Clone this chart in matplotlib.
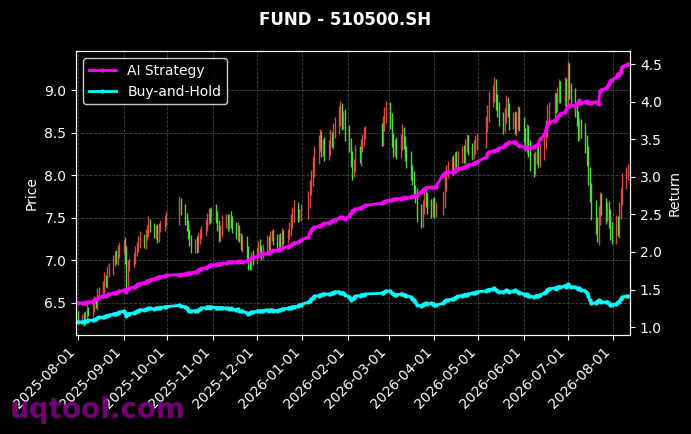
import numpy as np
import pandas as pd
import matplotlib
matplotlib.use("Agg")
import matplotlib.pyplot as plt
import matplotlib.dates as mdates

# trading calendar (weekdays minus exchange holidays)
holidays = pd.to_datetime([
    "2025-10-01", "2025-10-02", "2025-10-03", "2025-10-06", "2025-10-07", "2025-10-08",
    "2026-01-01", "2026-01-02",
    "2026-02-16", "2026-02-17", "2026-02-18", "2026-02-19", "2026-02-20", "2026-02-23",
    "2026-04-03", "2026-04-06",
    "2026-05-01", "2026-05-04", "2026-05-05",
    "2026-06-19",
])
dates = pd.bdate_range("2025-08-01", "2026-08-11")
dates = dates[~dates.isin(holidays)]

# daily closes, month by month
close = [
    # 2025-08
    6.30, 6.34, 6.28, 6.36, 6.42, 6.38, 6.45, 6.52, 6.48, 6.60, 6.64, 6.70, 6.78, 6.74, 6.86, 6.91, 6.98, 7.06, 7.02, 7.11, 7.14,
    # 2025-09
    7.18, 7.05, 6.78, 6.92, 6.98, 7.03, 7.10, 7.16, 7.22, 7.26, 7.20, 7.30, 7.36, 7.43, 7.38, 7.32, 7.35, 7.28, 7.38, 7.42, 7.46, 7.52,
    # 2025-10
    7.66, 7.60, 7.48, 7.42, 7.30, 7.24, 7.14, 7.20, 7.16, 7.26, 7.30, 7.35, 7.42, 7.48, 7.55, 7.50, 7.58,
    # 2025-11
    7.52, 7.40, 7.28, 7.36, 7.44, 7.48, 7.42, 7.50, 7.46, 7.38, 7.32, 7.36, 7.26, 7.18, 7.22, 7.08, 6.98, 6.94, 7.05, 7.02,
    # 2025-12
    7.10, 7.18, 7.12, 7.06, 7.14, 7.22, 7.16, 7.28, 7.31, 7.24, 7.20, 7.26, 7.22, 7.30, 7.25, 7.32, 7.38, 7.46, 7.55, 7.61, 7.52, 7.54, 7.58,
    # 2026-01
    7.72, 7.85, 7.98, 8.10, 8.22, 8.38, 8.44, 8.30, 8.36, 8.26, 8.34, 8.44, 8.40, 8.52, 8.60, 8.70, 8.76, 8.62, 8.68, 8.50,
    # 2026-02
    8.36, 8.18, 8.05, 8.12, 8.28, 8.20, 8.34, 8.42, 8.49, 8.52, 8.44, 8.60, 8.72, 8.76,
    # 2026-03
    8.64, 8.42, 8.30, 8.36, 8.28, 8.40, 8.50, 8.38, 8.25, 8.18, 8.04, 7.96, 7.82, 7.74, 7.56, 7.48, 7.62, 7.76, 7.70, 7.64, 7.58, 7.66,
    # 2026-04
    7.58, 7.62, 7.72, 7.90, 8.04, 8.10, 8.16, 8.08, 8.20, 8.14, 8.22, 8.28, 8.22, 8.34, 8.41, 8.30, 8.26, 8.34, 8.38, 8.42,
    # 2026-05
    8.60, 8.74, 8.88, 8.98, 9.04, 8.86, 8.78, 8.66, 8.58, 8.72, 8.84, 8.76, 8.62, 8.68, 8.56, 8.64, 8.72, 8.60,
    # 2026-06
    8.48, 8.36, 8.50, 8.30, 8.16, 8.08, 8.20, 8.26, 8.18, 8.28, 8.40, 8.56, 8.72, 8.78, 8.88, 8.82, 8.96, 9.02, 8.94, 9.04, 8.90,
    # 2026-07
    9.22, 9.00, 8.92, 8.80, 8.66, 8.50, 8.58, 8.52, 8.36, 8.22, 8.00, 7.78, 7.60, 7.42, 7.30, 7.52, 7.70, 7.62, 7.54, 7.60, 7.48, 7.36, 7.28,
    # 2026-08
    7.44, 7.36, 7.58, 7.76, 7.92, 8.02, 8.06,
]
open_ = [6.36] + close[:-1]

# shadow length beyond the body, in 0.01 price units
wick = [
    4, 3, 5, 4, 6, 3, 5, 6, 4, 7, 5, 6, 8, 5, 7, 6, 8, 5, 6, 7, 8,
    6, 9, 12, 8, 5, 6, 7, 5, 6, 8, 5, 7, 6, 9, 5, 6, 7, 8, 6, 5, 7, 6,
    10, 7, 6, 8, 5, 7, 6, 5, 8, 6, 7, 5, 6, 8, 7, 6, 5,
    8, 6, 7, 5, 9, 6, 7, 5, 8, 6, 7, 9, 5, 6, 8, 7, 9, 6, 5, 7,
    6, 5, 7, 6, 5, 8, 6, 7, 5, 6, 7, 5, 6, 8, 6, 5, 7, 9, 8, 10, 7, 6, 8,
    9, 10, 8, 11, 12, 9, 10, 8, 7, 9, 8, 10, 7, 9, 8, 11, 12, 9, 8, 10,
    9, 8, 10, 7, 8, 6, 9, 7, 8, 6, 9, 10, 8, 11,
    10, 9, 8, 7, 9, 8, 10, 7, 8, 9, 10, 8, 9, 7, 11, 10, 9, 8, 7, 9, 8, 7,
    8, 7, 9, 10, 8, 7, 6, 8, 7, 9, 6, 7, 8, 9, 7, 6, 8, 7, 9, 8,
    10, 9, 11, 8, 12, 9, 10, 8, 9, 7, 10, 8, 9, 7, 8, 10, 9, 8,
    9, 8, 10, 9, 11, 10, 8, 7, 9, 8, 10, 9, 11, 8, 10, 9, 8, 11, 9, 12, 10,
    12, 10, 9, 11, 8, 10, 9, 8, 10, 11, 12, 10, 13, 11, 9, 12, 10, 9, 11, 8, 10, 12, 9,
    9, 8, 10, 9, 11, 8, 7,
]

ai_strategy = [
    1.32, 1.32, 1.32, 1.32, 1.33, 1.33, 1.34, 1.36, 1.37, 1.38, 1.40, 1.41, 1.42, 1.42, 1.43, 1.44, 1.45, 1.46, 1.46, 1.47, 1.48,
    1.49, 1.50, 1.47, 1.51, 1.52, 1.53, 1.54, 1.56, 1.57, 1.58, 1.59, 1.60, 1.61, 1.62, 1.63, 1.64, 1.65, 1.66, 1.67, 1.67, 1.68, 1.69,
    1.70, 1.70, 1.71, 1.71, 1.72, 1.72, 1.72, 1.73, 1.74, 1.76, 1.77, 1.78, 1.79, 1.80, 1.81, 1.82, 1.83,
    1.83, 1.84, 1.84, 1.84, 1.85, 1.85, 1.86, 1.86, 1.86, 1.87, 1.87, 1.88, 1.87, 1.88, 1.86, 1.88, 1.89, 1.90, 1.92, 1.93,
    1.94, 1.95, 1.96, 1.97, 1.98, 1.98, 1.99, 2.00, 2.01, 2.02, 2.02, 2.03, 2.04, 2.05, 2.06, 2.07, 2.08, 2.09, 2.10, 2.12, 2.13, 2.14, 2.16,
    2.20, 2.25, 2.29, 2.32, 2.33, 2.34, 2.35, 2.36, 2.37, 2.38, 2.39, 2.40, 2.41, 2.42, 2.43, 2.45, 2.46, 2.46, 2.45, 2.44,
    2.48, 2.52, 2.55, 2.56, 2.57, 2.58, 2.59, 2.60, 2.61, 2.62, 2.65, 2.66, 2.67, 2.68,
    2.69, 2.69, 2.70, 2.70, 2.71, 2.71, 2.72, 2.72, 2.73, 2.72, 2.73, 2.74, 2.74, 2.75, 2.76, 2.80, 2.82, 2.84, 2.85, 2.86, 2.86, 2.86,
    2.86, 2.87, 3.03, 3.05, 3.05, 3.06, 3.06, 3.07, 3.08, 3.10, 3.11, 3.12, 3.13, 3.13, 3.15, 3.16, 3.17, 3.18, 3.19, 3.20,
    3.26, 3.30, 3.33, 3.34, 3.35, 3.36, 3.36, 3.38, 3.40, 3.42, 3.44, 3.45, 3.46, 3.46, 3.47, 3.45, 3.43, 3.41,
    3.40, 3.39, 3.38, 3.38, 3.39, 3.40, 3.41, 3.42, 3.44, 3.50, 3.56, 3.62, 3.68, 3.72, 3.75, 3.77, 3.80, 3.82, 3.84, 3.86, 3.90,
    3.93, 3.95, 3.96, 3.95, 3.97, 3.98, 4.02, 3.98, 4.00, 4.01, 3.99, 3.98, 3.99, 4.00, 3.98, 3.97, 4.14, 4.16, 4.18, 4.20, 4.24, 4.27, 4.29,
    4.33, 4.37, 4.36, 4.40, 4.46, 4.49, 4.50,
]

buy_and_hold = [
    1.07, 1.07, 1.07, 1.08, 1.08, 1.09, 1.09, 1.10, 1.11, 1.12, 1.13, 1.13, 1.14, 1.15, 1.15, 1.16, 1.17, 1.18, 1.18, 1.19, 1.20,
    1.21, 1.19, 1.15, 1.17, 1.18, 1.19, 1.20, 1.21, 1.22, 1.23, 1.23, 1.24, 1.24, 1.25, 1.25, 1.24, 1.25, 1.25, 1.26, 1.26, 1.27, 1.27,
    1.29, 1.28, 1.27, 1.25, 1.23, 1.22, 1.21, 1.22, 1.22, 1.23, 1.24, 1.25, 1.26, 1.27, 1.27, 1.26, 1.27,
    1.26, 1.25, 1.26, 1.25, 1.26, 1.25, 1.25, 1.24, 1.25, 1.24, 1.23, 1.24, 1.22, 1.21, 1.21, 1.19, 1.18, 1.19, 1.20, 1.20,
    1.21, 1.21, 1.22, 1.21, 1.22, 1.23, 1.22, 1.23, 1.23, 1.22, 1.22, 1.23, 1.23, 1.24, 1.24, 1.25, 1.26, 1.26, 1.27, 1.27, 1.28, 1.29, 1.30,
    1.33, 1.35, 1.37, 1.39, 1.41, 1.42, 1.43, 1.43, 1.44, 1.44, 1.44, 1.44, 1.45, 1.46, 1.47, 1.47, 1.46, 1.45, 1.46, 1.43,
    1.40, 1.36, 1.37, 1.39, 1.41, 1.42, 1.43, 1.43, 1.43, 1.44, 1.45, 1.46, 1.47, 1.48,
    1.48, 1.46, 1.44, 1.43, 1.43, 1.44, 1.44, 1.43, 1.43, 1.42, 1.40, 1.38, 1.36, 1.33, 1.30, 1.28, 1.30, 1.31, 1.32, 1.31, 1.32, 1.31,
    1.30, 1.29, 1.32, 1.35, 1.36, 1.36, 1.37, 1.38, 1.39, 1.40, 1.41, 1.42, 1.43, 1.43, 1.43, 1.44, 1.45, 1.45, 1.46, 1.47,
    1.48, 1.49, 1.50, 1.51, 1.52, 1.50, 1.48, 1.47, 1.47, 1.48, 1.49, 1.48, 1.47, 1.48, 1.49, 1.48, 1.47, 1.46,
    1.44, 1.43, 1.44, 1.42, 1.41, 1.40, 1.41, 1.42, 1.41, 1.43, 1.45, 1.47, 1.50, 1.51, 1.52, 1.51, 1.53, 1.54, 1.53, 1.55, 1.54,
    1.57, 1.55, 1.54, 1.53, 1.52, 1.51, 1.52, 1.50, 1.48, 1.46, 1.42, 1.36, 1.32, 1.32, 1.34, 1.36, 1.35, 1.34, 1.33, 1.34, 1.32, 1.30, 1.30,
    1.31, 1.33, 1.34, 1.37, 1.40, 1.41, 1.41,
]

df = pd.DataFrame({"open": open_, "close": close, "wick": wick,
                   "ai": ai_strategy, "bh": buy_and_hold}, index=dates)
df["high"] = df[["open", "close"]].max(axis=1) + df["wick"] / 100
df["low"] = df[["open", "close"]].min(axis=1) - df["wick"] / 100

fig = plt.figure(figsize=(6.91, 4.34), dpi=100, facecolor="black")
ax = fig.add_axes([0.110, 0.228, 0.802, 0.654], facecolor="black")

# red = up day, green = down day
up = df["close"] >= df["open"]
ax.vlines(df.index[up], df["low"][up], df["high"][up], color="#f25247", lw=1.0, alpha=0.9)
ax.vlines(df.index[~up], df["low"][~up], df["high"][~up], color="#55f044", lw=1.0, alpha=0.9)

ax.set_ylim(6.12, 9.46)
ax.set_xlim(df.index[0] - pd.Timedelta(days=1.4), df.index[-1] + pd.Timedelta(days=1.6))
ax.set_ylabel("Price", color="white", fontsize=10)
ax.grid(True, color="#555555", ls="--", lw=0.6, alpha=0.8)

ax2 = ax.twinx()
ax2.plot(df.index, df["ai"], color="#ff00ff", lw=2, marker="o", ms=2, label="AI Strategy")
ax2.plot(df.index, df["bh"], color="#00ffff", lw=2, marker="o", ms=2, label="Buy-and-Hold")
ax2.set_ylim(0.894, 4.673)
ax2.set_ylabel("Return", color="white", fontsize=10)

ax.xaxis.set_major_locator(mdates.MonthLocator())
ax.xaxis.set_major_formatter(mdates.DateFormatter("%Y-%m-%d"))
for lab in ax.get_xticklabels():
    lab.set_rotation(45)
    lab.set_ha("right")

for a in (ax, ax2):
    a.tick_params(colors="white", labelsize=10)
    for s in a.spines.values():
        s.set_color("white")

leg = ax2.legend(loc="upper left", facecolor="black", edgecolor="white", fontsize=10)
for t in leg.get_texts():
    t.set_color("white")

fig.suptitle("FUND - 510500.SH", color="white", fontsize=12, fontweight="bold", y=0.975)
fig.text(0.015, 0.037, "uqtool.com", color="#800080", fontsize=20, fontweight="bold", alpha=0.9)

fig.savefig("out.png", dpi=100, facecolor="black")
